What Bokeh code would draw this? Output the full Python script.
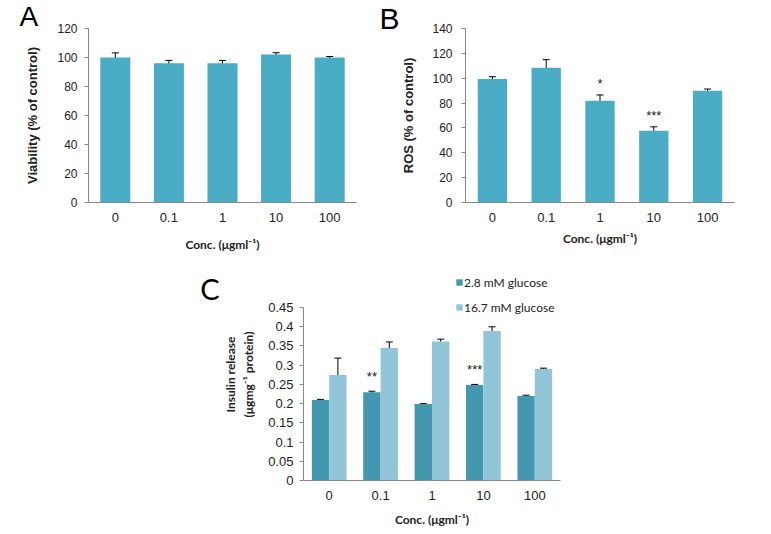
from bokeh.plotting import figure
from bokeh.models import (ColumnDataSource, Whisker, TeeHead, FixedTicker,
                          Legend, LegendItem, Range1d)
from bokeh.layouts import column, row
from bokeh.transform import dodge
from bokeh.embed import file_html
from bokeh.resources import INLINE
from bokeh.core.properties import value

# ---------------- data ----------------
conc = ["0", "0.1", "1", "10", "100"]

viability = [100, 96, 96, 102, 100]
viability_err = [3.2, 2.0, 2.0, 1.3, 0.7]

ros = [99.4, 108.4, 81.8, 57.7, 90.0]
ros_err = [1.8, 6.5, 4.7, 3.2, 1.3]
ros_sig = ["", "", "*", "***", ""]
ros_sig_y = [None, None, 96, 70, None]

insulin_low = [0.2095, 0.2293, 0.199, 0.2484, 0.2198]
insulin_low_err = [0.0015, 0.003, 0.0008, 0.0015, 0.002]
insulin_high = [0.2744, 0.3444, 0.3617, 0.3888, 0.2902]
insulin_high_err = [0.044, 0.016, 0.006, 0.011, 0.002]
insulin_sig = ["", "**", "", "***", ""]
insulin_sig_y = [None, 0.27, None, 0.29, None]

legend_labels = ["2.8 mM glucose", "16.7 mM glucose"]
panel_letters = ["A", "B", "C"]
c_ticks = [0, 0.05, 0.1, 0.15, 0.2, 0.25, 0.3, 0.35, 0.4, 0.45]
c_tick_labels = ["0", "0.05", "0.1", "0.15", "0.2", "0.25", "0.3", "0.35", "0.4", "0.45"]

BAR = "#4BACC6"
DARK = "#4397AF"
LIGHT = "#93C5D8"
AXIS = "#888888"
TXT = "#222222"
XTITLE = "Conc. (\u03bcgml\u207b\u00b9)"


def style(p, yticks, ytitle, ytitle_size, ytitle_font, ylabel_standoff, ytitle_standoff,
          xtitle_standoff, tick_size="12px", xtick_size="13px"):
    p.xgrid.grid_line_color = None
    p.ygrid.grid_line_color = None
    p.outline_line_color = None
    p.background_fill_color = "white"
    p.border_fill_color = "white"
    p.yaxis.ticker = FixedTicker(ticks=yticks)
    p.yaxis.minor_tick_line_color = None
    p.yaxis.major_tick_in = 0
    p.yaxis.major_tick_out = 4
    p.yaxis.major_tick_line_color = AXIS
    p.yaxis.axis_line_color = AXIS
    p.yaxis.major_label_standoff = ylabel_standoff
    p.yaxis.major_label_text_font = "Liberation Sans"
    p.yaxis.major_label_text_font_size = tick_size
    p.yaxis.major_label_text_color = TXT
    p.yaxis.axis_label = ytitle
    p.yaxis.axis_label_text_font = ytitle_font
    p.yaxis.axis_label_text_font_style = "bold"
    p.yaxis.axis_label_text_font_size = ytitle_size
    p.yaxis.axis_label_standoff = ytitle_standoff
    p.yaxis.axis_label_text_color = TXT
    p.xaxis.major_tick_line_color = None
    p.xaxis.minor_tick_line_color = None
    p.xaxis.major_tick_out = 0
    p.xaxis.axis_line_color = AXIS
    p.xaxis.major_label_standoff = 10
    p.xaxis.major_label_text_font = "Liberation Sans"
    p.xaxis.major_label_text_font_size = xtick_size
    p.xaxis.major_label_text_color = TXT
    p.xaxis.axis_label = XTITLE
    p.xaxis.axis_label_text_font = "Lato"
    p.xaxis.axis_label_text_font_style = "bold"
    p.xaxis.axis_label_text_font_size = "12px"
    p.xaxis.axis_label_standoff = xtitle_standoff
    p.xaxis.axis_label_text_color = TXT
    p.x_range.range_padding = 0


def letter(p, font, size, offset, standoff):
    t = p.title
    t.align = "left"
    t.vertical_align = "bottom"
    t.text_font = font
    t.text_font_size = size
    t.text_font_style = "normal"
    t.text_color = "black"
    t.offset = offset
    t.standoff = standoff


def whisker(src, base, up, dn):
    return Whisker(base=base, upper=up, lower=dn, source=src, line_color="black", line_width=1,
                   upper_head=TeeHead(size=7, line_color="black", line_width=1),
                   lower_head=TeeHead(size=7, line_color="black", line_width=1))


# ---------------- panel A ----------------
pA = figure(title=panel_letters[0], x_range=conc, y_range=(0, 120), width=380, height=258,
            min_border_left=88, min_border_right=24, min_border_top=28, min_border_bottom=56,
            output_backend="svg", toolbar_location=None)
srcA = ColumnDataSource(dict(conc=conc, val=viability,
                             upper=[v + e for v, e in zip(viability, viability_err)],
                             lower=[v - e for v, e in zip(viability, viability_err)]))
pA.vbar(x="conc", top="val", width=0.56, source=srcA, fill_color=BAR, line_color=None)
pA.add_layout(whisker(srcA, "conc", "upper", "lower"))
style(pA, list(range(0, 121, 20)), "Viability (% of control)", "13px", "Liberation Sans",
      7, 14, 12)
letter(pA, "Liberation Sans", "28px", -69, -6)

# ---------------- panel B ----------------
pB = figure(title=panel_letters[1], x_range=conc, y_range=(0, 140), width=374, height=258,
            min_border_left=85, min_border_right=20, min_border_top=28, min_border_bottom=55,
            output_backend="svg", toolbar_location=None)
srcB = ColumnDataSource(dict(conc=conc, val=ros,
                             upper=[v + e for v, e in zip(ros, ros_err)],
                             lower=[v - e for v, e in zip(ros, ros_err)],
                             sig=ros_sig,
                             sig_y=[y if y is not None else float("nan") for y in ros_sig_y]))
pB.vbar(x="conc", top="val", width=0.545, source=srcB, fill_color=BAR, line_color=None)
pB.add_layout(whisker(srcB, "conc", "upper", "lower"))
pB.text(x="conc", y="sig_y", text="sig", source=srcB, text_align="center",
        text_baseline="middle", text_font=value("Liberation Sans"), text_font_size="13px",
        text_color=TXT)
style(pB, list(range(0, 141, 20)), "ROS (% of control)", "13px", "Liberation Sans", 9, 13, 6)
letter(pB, "Liberation Sans", "30px", -86, -12)

# ---------------- panel C ----------------
ROW2_H = 272
C_TOP, C_FRAME, C_AXIS_PX = 10, 212, 173
LC_W = 220
C_LEFT = 83
# strip on the left that carries the panel letter "C"
lc = figure(width=LC_W, height=ROW2_H, x_range=Range1d(0, LC_W), y_range=Range1d(ROW2_H, 0),
            x_axis_type=None, y_axis_type=None, min_border=0, output_backend="svg",
            toolbar_location=None)
lc.outline_line_color = None
lc.xgrid.grid_line_color = None
lc.ygrid.grid_line_color = None
lc.text(x=[LC_W - 1], y=[26], text=[panel_letters[2]], text_font=value("Lato"),
        text_font_size="29px", text_color="black", text_baseline="alphabetic",
        text_align="right")

# frame reaches above the 0.45 tick so that the legend can sit inside it
c_ymax = c_ticks[-1] * C_FRAME / C_AXIS_PX
pC = figure(x_range=conc, y_range=Range1d(0, c_ymax), width=C_LEFT + 257 + 20, height=ROW2_H,
            min_border_left=C_LEFT, min_border_right=20, min_border_top=C_TOP,
            min_border_bottom=ROW2_H - C_TOP - C_FRAME,
            output_backend="svg", toolbar_location=None)
srcC = ColumnDataSource(dict(
    conc=conc, low=insulin_low, high=insulin_high,
    low_up=[v + e for v, e in zip(insulin_low, insulin_low_err)],
    low_dn=[v - e for v, e in zip(insulin_low, insulin_low_err)],
    high_up=[v + e for v, e in zip(insulin_high, insulin_high_err)],
    high_dn=[v - e for v, e in zip(insulin_high, insulin_high_err)],
    sig=insulin_sig,
    sig_y=[y if y is not None else float("nan") for y in insulin_sig_y]))
off = 0.169
rl = pC.vbar(x=dodge("conc", -off, range=pC.x_range), top="low", width=0.338, source=srcC,
             fill_color=DARK, line_color=None)
rh = pC.vbar(x=dodge("conc", off, range=pC.x_range), top="high", width=0.338, source=srcC,
             fill_color=LIGHT, line_color=None)
pC.add_layout(whisker(srcC, dodge("conc", -off, range=pC.x_range), "low_up", "low_dn"))
pC.add_layout(whisker(srcC, dodge("conc", off, range=pC.x_range), "high_up", "high_dn"))
pC.text(x=dodge("conc", -off, range=pC.x_range), y="sig_y", text="sig", source=srcC,
        text_align="center", text_baseline="middle", text_font=value("Liberation Sans"),
        text_font_size="13px", text_color=TXT)
style(pC, c_ticks, "Insulin release\n(\u03bcgmg\u207b\u00b9 protein)", "12px", "Lato", 6, 9, 9,
      tick_size="13px", xtick_size="13px")
pC.yaxis.bounds = (c_ticks[0], c_ticks[-1])
pC.yaxis.major_label_overrides = dict(zip(c_ticks, c_tick_labels))
legend = Legend(items=[LegendItem(label=legend_labels[0], renderers=[rl]),
                       LegendItem(label=legend_labels[1], renderers=[rh])],
                location=(152, 165), orientation="vertical",
                glyph_width=8, glyph_height=8, label_height=16, label_standoff=1,
                spacing=9, padding=0, margin=0, border_line_color=None,
                background_fill_alpha=0, label_text_font="Lato",
                label_text_font_size="12px", label_text_color=TXT)
pC.add_layout(legend)

layout = column(row(pA, pB), row(lc, pC))

open("out.html", "w").write(file_html(layout, INLINE))
